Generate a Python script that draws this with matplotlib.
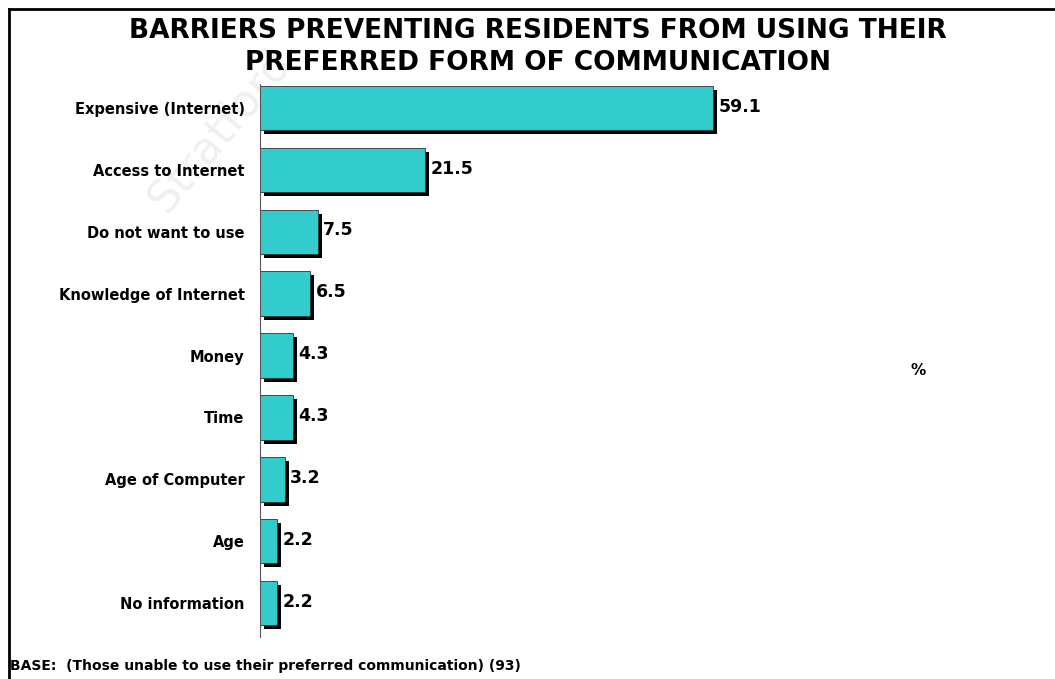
import numpy as np
from matplotlib import pyplot as plt
from matplotlib import transforms

# barriers, in percent
categories = ['Expensive (Internet)', 'Access to Internet', 'Do not want to use',
              'Knowledge of Internet', 'Money', 'Time', 'Age of Computer',
              'Age', 'No information']
values = [59.1, 21.5, 7.5, 6.5, 4.3, 4.3, 3.2, 2.2, 2.2]

title = 'BARRIERS PREVENTING RESIDENTS FROM USING THEIR\nPREFERRED FORM OF COMMUNICATION'
base_note = 'BASE:  (Those unable to use their preferred communication) (93)'

bar_color = '#33CCCC'

fig = plt.figure(figsize=(10.55, 6.79), dpi=100)

# faint watermark, behind everything
fig.text(225 / 1055, 1 - 125 / 679, 'Stratford-', ha='center', va='center',
         fontsize=32, rotation=50, color='#f0f0f0', zorder=-5)

ax = fig.add_axes([260 / 1055, 1 - 637 / 679, 740 / 1055, (637 - 84) / 679])
ax.patch.set_visible(False)

y = np.arange(len(categories))

# black drop shadow, shifted 4px right / down
shadow = ax.barh(y, values, height=0.72, color='black', zorder=1)
shift = transforms.ScaledTranslation(4 / 100, -4 / 100, fig.dpi_scale_trans)
for p in shadow:
    p.set_transform(ax.transData + shift)

bars = ax.barh(y, values, height=0.72, color=bar_color, edgecolor='#333333',
               linewidth=0.6, zorder=2)

for i, v in enumerate(values):
    ax.annotate('{:.1f}'.format(v), (v, i), xytext=(4, 1), textcoords='offset points',
                ha='left', va='center', fontsize=12.5, fontweight='bold')

ax.set_xlim(0, 740 / 7.67)
ax.set_ylim(len(categories) - 1 + 0.55, -0.39)
ax.set_yticks(y)
ax.set_yticklabels(categories, fontsize=10.5, fontweight='bold')
ax.tick_params(axis='y', length=0, pad=11)
ax.set_xticks([])
for s in ['top', 'right', 'bottom']:
    ax.spines[s].set_visible(False)
ax.spines['left'].set_color('#555555')
ax.spines['left'].set_linewidth(0.8)

fig.text(538 / 1055, 1 - 47 / 679, title, ha='center', va='center', fontsize=19,
         fontweight='bold', linespacing=1.25)
fig.text(918 / 1055, 1 - 371 / 679, '%', ha='center', va='center', fontsize=11,
         fontweight='bold')
fig.text(10 / 1055, 1 - 666 / 679, base_note, ha='left', va='center', fontsize=10,
         fontweight='bold')

# frame (left and top only)
fig.add_artist(plt.Line2D([9 / 1055, 9 / 1055], [0, 1 - 9 / 679], color='black', lw=2))
fig.add_artist(plt.Line2D([9 / 1055, 1], [1 - 9 / 679, 1 - 9 / 679], color='black', lw=2))

fig.savefig('out.png', dpi=100)
